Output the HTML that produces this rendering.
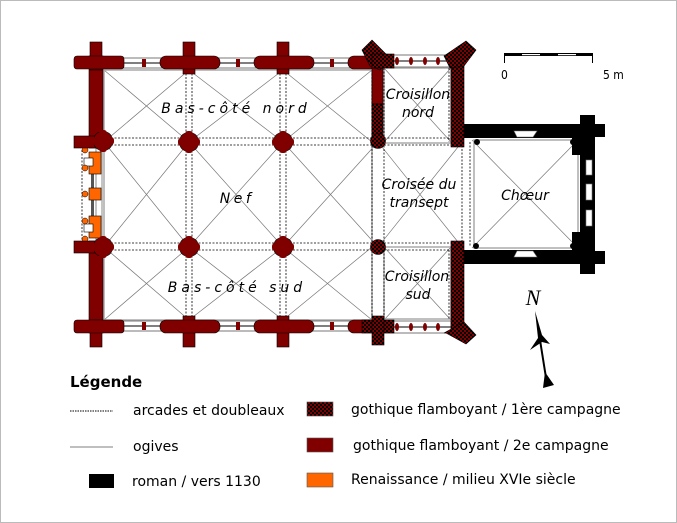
<!DOCTYPE html>
<html><head><meta charset="utf-8"><style>
html,body{margin:0;padding:0;background:#fff;}
svg{display:block;font-family:"DejaVu Sans","Liberation Sans",sans-serif;}
</style></head><body>
<svg width="677" height="523" viewBox="0 0 677 523" xmlns="http://www.w3.org/2000/svg">
<defs>
<pattern id="chk" width="4" height="4" patternUnits="userSpaceOnUse">
<rect width="4" height="4" fill="#800000"/><rect width="2" height="2" fill="#000"/><rect x="2" y="2" width="2" height="2" fill="#000"/>
</pattern>
<g id="qf"><rect x="-9" y="-9" width="18" height="18" rx="7" fill="#800000" stroke="#000" stroke-width="0.6"/><rect x="-11" y="-4" width="22" height="8" rx="3" fill="#800000"/><rect x="-4" y="-11" width="8" height="22" rx="3" fill="#800000"/></g>
</defs>
<rect x="0.5" y="0.5" width="676" height="522" fill="#fff" stroke="#bbb"/>

<g stroke="#777" stroke-width="0.7" fill="none">
<path d="M104 70L189 142M189 70L104 142M189 70L283 142M283 70L189 142M283 70L372 142M372 70L283 142"/>
<path d="M104 142L189 247M189 142L104 247M189 142L283 247M283 142L189 247M283 142L378 247M378 142L283 247"/>
<path d="M104 247L189 320M189 247L104 320M189 247L283 320M283 247L189 320M283 247L372 320M372 247L283 320"/>
<path d="M384 68L451 142M451 68L384 142M378 142L462 247M462 142L378 247M384 247L451 320M451 247L384 320"/>
<path d="M472 140L578 248M578 140L472 248"/>
</g>
<g stroke="#aaa" stroke-width="1.5" fill="none">
<rect x="104" y="70" width="268" height="250"/>
<rect x="384" y="68" width="67" height="75"/><rect x="384" y="247" width="67" height="72"/>
<rect x="474" y="140" width="104" height="108"/>
</g>
<g stroke="#000" stroke-width="0.8" stroke-dasharray="2,1.5" fill="none">
<path d="M104 138H462M104 145H462M104 243H462M104 250H462"/>
<path d="M186 70V320M192 70V320M280 70V320M286 70V320M372 142V247M384 142V247M372 70V142M372 247V320"/>
<path d="M462 142V247M470 142V247M384 68V142M449 68V142M384 250V320M449 250V320"/>
<path d="M82 150V242"/>
</g>

<g stroke="#777" stroke-width="1" fill="#fff">
<rect x="104" y="58" width="268" height="10"/><rect x="104" y="321" width="268" height="10"/>
<rect x="384" y="55" width="67" height="12"/><rect x="384" y="321" width="67" height="12"/>
</g>
<g stroke="#555" stroke-width="1.5"><path d="M104 63H372M104 326H372M384 61H451M384 327H451"/></g>
<g fill="#800000">
<rect x="142" y="59" width="4" height="8"/><rect x="236" y="59" width="4" height="8"/><rect x="330" y="59" width="4" height="8"/>
<rect x="142" y="322" width="4" height="8"/><rect x="236" y="322" width="4" height="8"/><rect x="330" y="322" width="4" height="8"/>
<ellipse cx="397" cy="61" rx="2" ry="4"/><ellipse cx="411" cy="61" rx="2" ry="4"/><ellipse cx="425" cy="61" rx="2" ry="4"/><ellipse cx="438" cy="61" rx="2" ry="4"/>
<ellipse cx="397" cy="327" rx="2" ry="4"/><ellipse cx="411" cy="327" rx="2" ry="4"/><ellipse cx="425" cy="327" rx="2" ry="4"/><ellipse cx="438" cy="327" rx="2" ry="4"/>
</g>

<!-- west facade renaissance -->
<rect x="96" y="148" width="6" height="94" fill="#fff" stroke="#888" stroke-width="1"/>
<rect x="91" y="174" width="3" height="42" fill="#555"/>
<g stroke="#000" stroke-width="0.6">
<rect x="89" y="152" width="12" height="22" fill="#ff6600"/><rect x="89" y="188" width="12" height="12" fill="#ff6600"/><rect x="89" y="216" width="12" height="22" fill="#ff6600"/>
<rect x="84" y="158" width="9" height="8" fill="#fff"/><rect x="84" y="224" width="9" height="8" fill="#fff"/>
</g>
<g fill="#ff6600" stroke="#000" stroke-width="0.5"><circle cx="85" cy="150" r="3"/><circle cx="85" cy="168" r="3"/><circle cx="85" cy="194" r="3"/><circle cx="85" cy="221" r="3"/><circle cx="85" cy="239" r="3"/></g>

<g fill="#800000" stroke="#000" stroke-width="0.6">
<rect x="89" y="56" width="14" height="92"/><rect x="89" y="241" width="14" height="92"/>
<rect x="90" y="42" width="12" height="28"/><rect x="74" y="56" width="50" height="13" rx="3"/>
<rect x="90" y="320" width="12" height="27"/><rect x="74" y="320" width="50" height="13" rx="3"/>
<rect x="74" y="136" width="30" height="12"/><rect x="74" y="241" width="30" height="12"/>
<rect x="183" y="42" width="12" height="32"/><rect x="160" y="56" width="60" height="13" rx="6"/>
<rect x="277" y="42" width="12" height="32"/><rect x="254" y="56" width="60" height="13" rx="6"/>
<rect x="183" y="316" width="12" height="31"/><rect x="160" y="320" width="60" height="13" rx="6"/>
<rect x="277" y="316" width="12" height="31"/><rect x="254" y="320" width="60" height="13" rx="6"/>
<rect x="348" y="56" width="28" height="13" rx="6"/><rect x="348" y="320" width="28" height="13" rx="6"/>
<rect x="372" y="68" width="11" height="36"/>
</g>
<use href="#qf" x="189" y="142"/><use href="#qf" x="283" y="142"/><use href="#qf" x="189" y="247"/><use href="#qf" x="283" y="247"/>
<use href="#qf" x="103" y="141"/><use href="#qf" x="103" y="247"/>

<g fill="url(#chk)" stroke="#000" stroke-width="0.6">
<rect x="372" y="104" width="11" height="36"/>
<rect x="451" y="55" width="13" height="92"/><rect x="451" y="241" width="13" height="92"/>
<polygon points="362,50 372,40 390,58 380,70 370,66"/><rect x="372" y="54" width="22" height="14"/>
<polygon points="444,56 466,41 476,50 464,66 450,68"/>
<rect x="362" y="320" width="32" height="13"/><rect x="372" y="316" width="12" height="29"/>
<polygon points="444,333 464,322 476,335 466,344 446,333"/>
<circle cx="378" cy="141" r="7.5"/><circle cx="378" cy="247" r="7.5"/>
</g>

<g fill="#000">
<rect x="464" y="124" width="116" height="14"/><rect x="464" y="250" width="116" height="14"/>
<rect x="580" y="115" width="15" height="159"/>
<rect x="580" y="124" width="25" height="13"/><rect x="580" y="251" width="25" height="13"/>
<rect x="572" y="135" width="10" height="20"/><rect x="572" y="232" width="10" height="20"/>
<circle cx="477" cy="142" r="3"/><circle cx="476" cy="246" r="3"/><circle cx="573" cy="142" r="3"/><circle cx="573" cy="246" r="3"/>
</g>
<g fill="#fff" stroke="#777" stroke-width="0.6">
<polygon points="517,137 533,137 537,131 514,131"/><polygon points="514,257 537,257 533,251 517,251"/>
<rect x="586" y="160" width="6" height="15"/><rect x="586" y="184" width="6" height="16"/><rect x="586" y="210" width="6" height="16"/>
</g>

<g font-style="italic" font-size="14" fill="#000" text-anchor="middle" font-family="DejaVu Sans, sans-serif">
<text x="236" y="113" letter-spacing="4">Bas-côté nord</text>
<text x="237" y="203" letter-spacing="3.5">Nef</text>
<text x="237" y="292" letter-spacing="4">Bas-côté sud</text>
<text x="418" y="99">Croisillon</text><text x="418" y="117">nord</text>
<text x="419" y="189">Croisée du</text><text x="419" y="207">transept</text>
<text x="525" y="200">Chœur</text>
<text x="417" y="281">Croisillon</text><text x="418" y="299">sud</text>
</g>

<g>
<rect x="504" y="53" width="89" height="3" fill="#000"/>
<rect x="522" y="54" width="18" height="1.2" fill="#fff"/><rect x="558" y="54" width="18" height="1.2" fill="#fff"/>
<rect x="504" y="53" width="1" height="10" fill="#000"/><rect x="592" y="53" width="1" height="10" fill="#000"/>
<text x="501" y="79" font-size="12" fill="#000" font-family="DejaVu Sans Condensed, DejaVu Sans, sans-serif">0</text>
<text x="603" y="79" font-size="12" fill="#000" font-family="DejaVu Sans Condensed, DejaVu Sans, sans-serif">5 m</text>
</g>
<text x="533" y="305" font-size="22" font-style="italic" font-family="Liberation Serif, serif" text-anchor="middle">N</text>
<polygon points="535,311 542,335 550,344 542,342 530,350 538,338" fill="#000"/>
<path d="M540 340L547 384" stroke="#000" stroke-width="2"/>
<polygon points="545,372 543,388 554,385" fill="#000"/>

<text x="70" y="387" font-size="15" font-weight="bold" font-family="DejaVu Sans, sans-serif">Légende</text>
<g font-size="14" fill="#000" font-family="DejaVu Sans, sans-serif">
<path d="M70 411H113" stroke="#000" stroke-dasharray="1.5,1" stroke-width="1"/>
<text x="133" y="415">arcades et doubleaux</text>
<path d="M70 447H113" stroke="#aaa" stroke-width="1.5"/>
<text x="133" y="451">ogives</text>
<rect x="89" y="474" width="25" height="14" fill="#000"/>
<text x="132" y="486">roman / vers 1130</text>
<rect x="307" y="402" width="26" height="14" fill="url(#chk)" stroke="#555" stroke-width="0.6"/>
<text x="351" y="414">gothique flamboyant / 1ère campagne</text>
<rect x="307" y="438" width="26" height="14" fill="#800000" stroke="#555" stroke-width="0.6"/>
<text x="353" y="450">gothique flamboyant / 2e campagne</text>
<rect x="307" y="473" width="26" height="14" fill="#ff6600" stroke="#555" stroke-width="0.6"/>
<text x="351" y="484">Renaissance / milieu XVIe siècle</text>
</g>
</svg>
</body></html>
